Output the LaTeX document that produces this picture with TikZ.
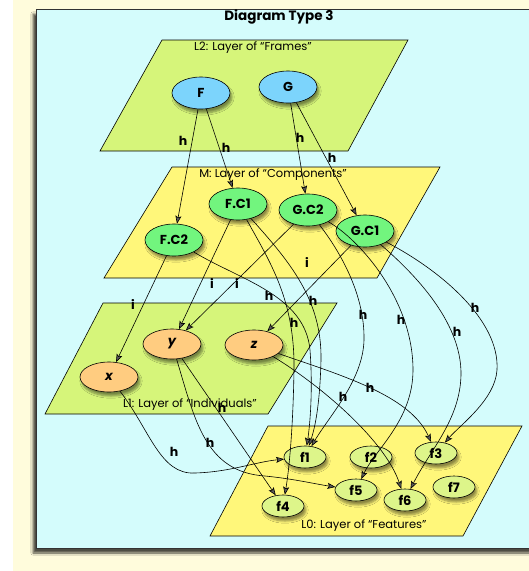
\documentclass[tikz,border=0pt]{standalone}
\usepackage{fontspec}
\setmainfont{Poppins}
\usetikzlibrary{shapes.geometric,arrows.meta,shadows.blur}
\definecolor{cream}{HTML}{FFFCDC}
\definecolor{panelc}{HTML}{D4FCFC}
\definecolor{lgreen}{HTML}{D6F57A}
\definecolor{lyellow}{HTML}{FFF77A}
\definecolor{nblue}{HTML}{7CD4FC}
\definecolor{cgreen}{HTML}{72F57E}
\definecolor{norange}{HTML}{FFCC80}
\definecolor{ffill}{HTML}{DDF58A}
\tikzset{
  plane/.style={draw=black, line width=0.6pt},
  planelab/.style={font=\fontsize{11.5}{13}\selectfont, inner sep=0pt},
  nd/.style={ellipse, draw=black, line width=0.6pt, inner sep=0pt,
    font=\bfseries\fontsize{13}{15}\selectfont,
    blur shadow={shadow xshift=2pt, shadow yshift=-4pt, shadow blur steps=6, shadow opacity=45}},
  framen/.style={nd, fill=nblue, minimum width=58pt, minimum height=32pt},
  compn/.style={nd, fill=cgreen, minimum width=58pt, minimum height=32pt},
  indivn/.style={nd, fill=norange, minimum width=58pt, minimum height=30pt},
  featn/.style={nd, fill=ffill, minimum width=42pt, minimum height=22pt},
  lab/.style={font=\bfseries\fontsize{12.5}{14}\selectfont, inner sep=0pt},
  arr/.style={-{Stealth[length=8pt,width=6pt,inset=1.5pt]}, line width=0.6pt}
}
\begin{document}
\begin{tikzpicture}[x=1pt,y=-1pt]
\useasboundingbox (0,0) rectangle (529,571);
\clip (0,0) rectangle (529,571);
% backgrounds
\fill[white] (0,0) rectangle (529,571);
\fill[cream] (13,0) rectangle (529,571);
\path[fill=panelc, draw=black!80, line width=0.6pt,
  blur shadow={shadow xshift=-3pt, shadow yshift=-5pt, shadow blur steps=6, shadow opacity=70}]
  (36,9) rectangle (545,548);
\node[font=\bfseries\fontsize{13.5}{15}\selectfont, inner sep=0pt] (title) at (279,17) {Diagram Type 3};
% planes
\path[plane, fill=lgreen] (162,40) -- (408,40) -- (348,151) -- (100,151) -- cycle;
\node[planelab] (l2lab) at (253,48) {L2: Layer of “Frames”};
\path[plane, fill=lyellow] (172,167) -- (440,167) -- (377,278) -- (104,278) -- cycle;
\node[planelab] (mlab) at (273,175) {M: Layer of “Components”};
\path[plane, fill=lgreen] (103,303) -- (337,303) -- (268,414) -- (45,414) -- cycle;
\node[planelab] (l1lab) at (190,405) {L1: Layer of “Individuals”};
\path[plane, fill=lyellow] (268,426) -- (522,426) -- (463,536) -- (210,536) -- cycle;
\node[planelab] (l0lab) at (364,526) {L0: Layer of “Features”};
% nodes
\node[framen] (F) at (201,93) {F};
\node[framen] (G) at (288,87) {G};
\node[compn] (FC1) at (238,204) {F.C1};
\node[compn] (GC2) at (308,210) {G.C2};
\node[compn] (GC1) at (365,231) {G.C1};
\node[compn] (FC2) at (174,240) {F.C2};
\node[indivn] (ny) at (172,344) {\itshape y};
\node[indivn] (nz) at (254,345) {\itshape z};
\node[indivn] (nx) at (109,377) {\itshape x};
\node[featn] (f1) at (305,457) {f1};
\node[featn] (f2) at (371,457) {f2};
\node[featn] (f3) at (436,453) {f3};
\node[featn] (f4) at (283,506) {f4};
\node[featn] (f5) at (356,490) {f5};
\node[featn] (f6) at (405,500) {f6};
\node[featn] (f7) at (454,487) {f7};
% edges frames -> components
\draw[arr] (F) -- (FC2);
\draw[arr] (F) -- (FC1);
\draw[arr] (G) -- (GC2);
\draw[arr] (G) -- (GC1);
% components -> individuals
\draw[arr] (FC2) -- (nx);
\draw[arr] (FC1) -- (ny);
\draw[arr] (GC2) -- (ny);
\draw[arr] (GC1) -- (nz);
% to features
\draw[arr] (nx) .. controls (150,430) and (160,475) .. (195,473) .. controls (230,472) and (255,462) .. (f1);
\draw[arr] (ny) .. controls (195,420) and (205,472) .. (265,476) .. controls (295,479) and (315,484) .. (f5);
\draw[arr] (ny) -- (f4);
\draw[arr] (FC1) .. controls (270,262) and (295,300) .. (294,370) .. controls (293,430) and (289,470) .. (f4);
\draw[arr] (FC1) .. controls (290,262) and (322,300) .. (321,360) .. controls (320,400) and (316,425) .. (f1);
\draw[arr] (FC2) .. controls (240,280) and (305,295) .. (310,350) .. controls (313,390) and (310,425) .. (f1);
\draw[arr] (GC2) .. controls (335,245) and (365,290) .. (364,340) .. controls (363,380) and (330,415) .. (f1);
\draw[arr] (GC2) .. controls (360,240) and (413,300) .. (413,370) .. controls (413,420) and (375,450) .. (f5);
\draw[arr] (GC1) .. controls (410,270) and (462,320) .. (461,375) .. controls (460,420) and (430,450) .. (f6);
\draw[arr] (GC1) .. controls (440,270) and (500,320) .. (497,370) .. controls (495,400) and (460,425) .. (f3);
\draw[arr] (nz) .. controls (340,375) and (410,395) .. (f3);
\draw[arr] (nz) .. controls (320,385) and (385,440) .. (f6);
% labels
\node[lab] (h1) at (183,141) {h};
\node[lab] (h2) at (226,148) {h};
\node[lab] (h3) at (300,138) {h};
\node[lab] (h4) at (332,158) {h};
\node[lab] (i1) at (133,304) {i};
\node[lab] (i2) at (212,283) {i};
\node[lab] (i3) at (237,283) {i};
\node[lab] (i4) at (307,262) {i};
\node[lab] (h5) at (269,296) {h};
\node[lab] (h6) at (313,301) {h};
\node[lab] (h7) at (294,323) {h};
\node[lab] (h8) at (363,315) {h};
\node[lab] (h9) at (401,320) {h};
\node[lab] (h10) at (457,332) {h};
\node[lab] (h11) at (475,308) {h};
\node[lab] (h12) at (370,388) {h};
\node[lab] (h13) at (343,397) {h};
\node[lab] (h14) at (222,408) {h};
\node[lab] (h15) at (210,443) {h};
\node[lab] (h16) at (174,452) {h};
\end{tikzpicture}
\end{document}
